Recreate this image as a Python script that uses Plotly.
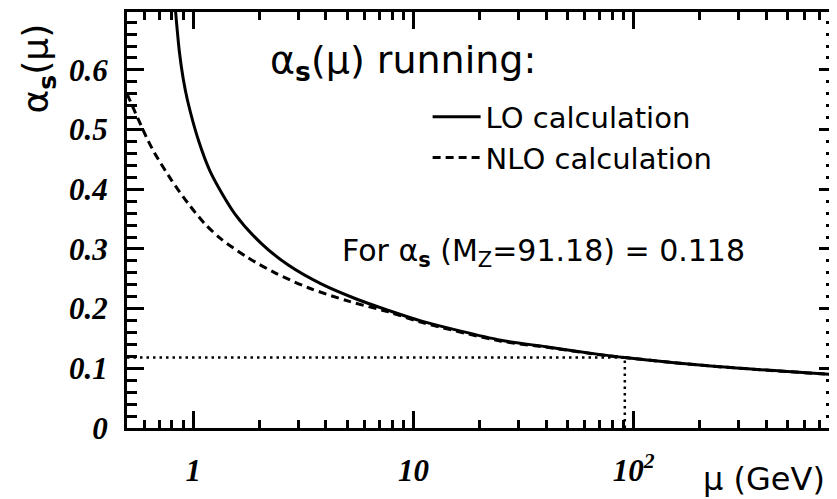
import plotly.graph_objects as go
import numpy as np

# ---- data ----
mu_lo = [0.83, 0.865, 0.9, 0.94, 1.06, 1.2, 1.55, 2.04, 2.7, 3.83, 5.43, 7.7, 10.9, 25, 40, 72, 91.18, 205, 500, 830]
alpha_lo = [0.700, 0.630, 0.585, 0.550, 0.480, 0.428, 0.358, 0.309, 0.273, 0.241, 0.217, 0.197, 0.179, 0.147, 0.1362, 0.1225, 0.118, 0.105, 0.0945, 0.0895]

mu_nlo = [0.5, 0.613, 0.669, 0.797, 0.949, 1.129, 1.345, 1.778, 2.35, 3.33, 5.07, 7.7, 10.9, 25, 40, 72, 91.18, 205, 500, 830]
alpha_nlo = [0.560, 0.487, 0.460, 0.415, 0.376, 0.342, 0.316, 0.285, 0.260, 0.235, 0.2125, 0.1945, 0.177, 0.1455, 0.1355, 0.1222, 0.118, 0.105, 0.0945, 0.0895]

mz = 91.18
alpha_mz = 0.118
mu_min, mu_max = 0.5, 830
y_max = 0.697

x_major = [1, 10, 100]
x_major_text = ["1", "10", "10<sup>2</sup>"]
x_minor = [0.6, 0.7, 0.8, 0.9, 2, 3, 4, 5, 6, 7, 8, 9, 20, 30, 40, 50, 60, 70, 80, 90,
           200, 300, 400, 500, 600, 700, 800]

fig = go.Figure()

fig.add_trace(go.Scatter(x=mu_lo, y=alpha_lo, mode="lines", name="LO calculation",
                         line=dict(color="black", width=3, shape="spline", smoothing=0.8)))
fig.add_trace(go.Scatter(x=mu_nlo, y=alpha_nlo, mode="lines", name="NLO calculation",
                         line=dict(color="black", width=3, dash="8px,5px", shape="spline", smoothing=0.8)))
# dotted reference lines at M_Z
fig.add_trace(go.Scatter(x=[mu_min, mz], y=[alpha_mz, alpha_mz], mode="lines", showlegend=False,
                         line=dict(color="black", width=2.5, dash="2.5px,4px")))
fig.add_trace(go.Scatter(x=[mz, mz], y=[0, alpha_mz], mode="lines", showlegend=False, xaxis="x2",
                         line=dict(color="black", width=2.5, dash="2.5px,4px")))

tickfont = dict(family="Liberation Serif", size=31, color="black", weight="bold", style="italic")
tc = "black"

fig.update_layout(
    xaxis=dict(type="log", range=[np.log10(mu_min), np.log10(mu_max)], automargin=False,
               showline=True, linewidth=3, linecolor="black", mirror="ticks",
               tickmode="array", tickvals=x_major, ticktext=x_major_text,
               ticks="inside", ticklen=17, tickwidth=2.5, tickcolor=tc,
               tickfont=tickfont, ticklabelstandoff=13,
               showgrid=False, zeroline=False),
    xaxis2=dict(type="log", range=[np.log10(mu_min), np.log10(mu_max)], overlaying="x", side="bottom",
                automargin=False,
                showline=True, linewidth=3, linecolor="black", mirror="ticks",
                tickmode="array", tickvals=x_minor, showticklabels=False,
                ticks="inside", ticklen=8, tickwidth=2.5, tickcolor=tc,
                showgrid=False, zeroline=False),
    yaxis=dict(range=[0, y_max], showline=True, linewidth=3, linecolor="black", mirror="ticks",
               automargin=False,
               tickmode="linear", tick0=0, dtick=0.1,
               ticks="inside", ticklen=17, tickwidth=2.5, tickcolor=tc,
               tickfont=tickfont, ticklabelstandoff=10,
               minor=dict(dtick=0.02, ticks="inside", ticklen=10, tickwidth=2.5, tickcolor=tc),
               showgrid=False, zeroline=False),
)

sans = "DejaVu Sans"
fig.add_annotation(text="α<sub><b>s</b></sub>(μ) running:", xref="paper", yref="paper",
                   x=0.199, y=0.879, xanchor="left", yanchor="middle", showarrow=False,
                   font=dict(family=sans, size=38, color="black"))
fig.add_annotation(text="For α<sub><b>s</b></sub> (M<sub>Z</sub>=91.18) = 0.118", xref="paper", yref="paper",
                   x=0.301, y=0.422, xanchor="left", yanchor="middle", showarrow=False,
                   font=dict(family=sans, size=30, color="black"))
fig.add_annotation(text="α<sub><b>s</b></sub>(μ)", xref="paper", yref="paper",
                   x=-0.125, y=0.865, xanchor="center", yanchor="middle", textangle=-90, showarrow=False,
                   font=dict(family=sans, size=36, color="black"))
fig.add_annotation(text="μ (GeV)", xref="paper", yref="paper",
                   x=0.988, y=-0.1226, xanchor="right", yanchor="middle", showarrow=False,
                   font=dict(family=sans, size=32, color="black"))

# the page body adds an 8 px offset, so the figure is 8 px smaller than the window
fig.update_layout(width=829, height=491, margin=dict(l=119, r=1, t=4, b=71),
                  plot_bgcolor="white", paper_bgcolor="white",
                  showlegend=True,
                  legend=dict(x=0.424, y=0.809, xanchor="left", yanchor="top", bgcolor="rgba(0,0,0,0)",
                              font=dict(family=sans, size=29, color="black"), itemwidth=48,
                              tracegroupgap=0))

fig.write_html("out.html")
